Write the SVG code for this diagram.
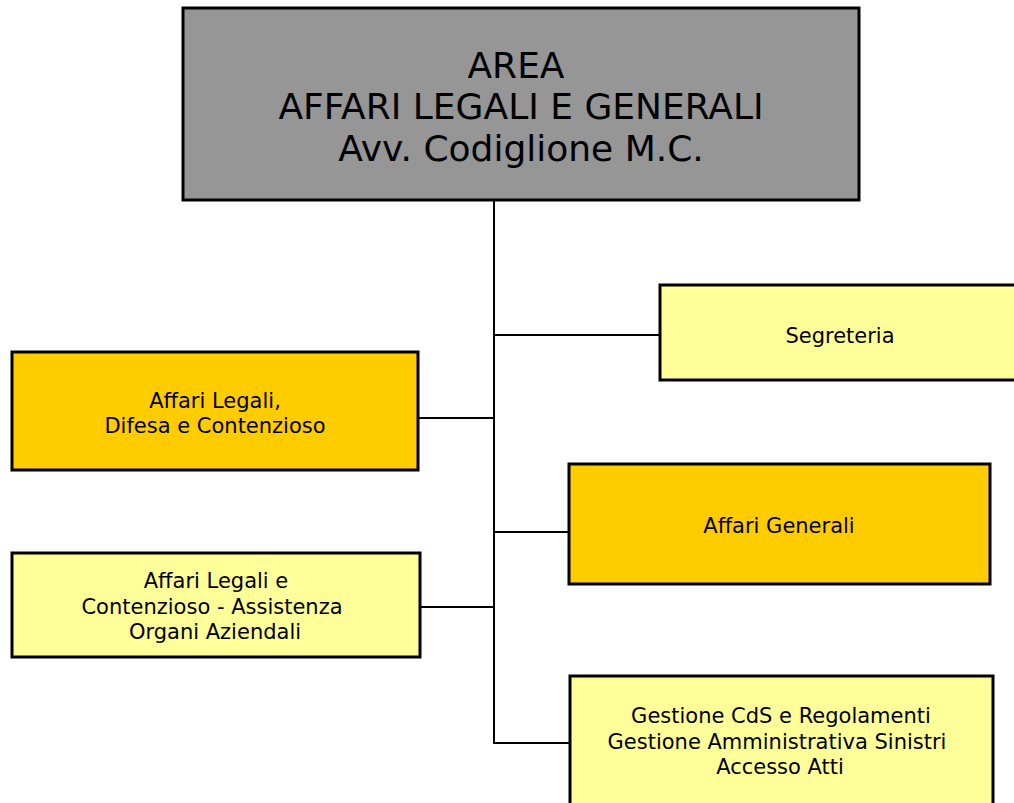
<svg xmlns="http://www.w3.org/2000/svg" width="1014" height="803" viewBox="0 0 1014 803">
<style>
.box{stroke:#000;stroke-width:3}
.gray{fill:#969696}
.gold{fill:#FFCC00}
.pale{fill:#FFFF99}
.t{font-family:"DejaVu Sans",Verdana,sans-serif;font-size:21px;fill:#000;text-anchor:middle}
.big{font-size:36px}
.c{stroke:#000;stroke-width:2;fill:none}
</style>
<rect width="1014" height="803" fill="#fff"/>
<g id="connectors">
<line class="c" x1="494" y1="200" x2="494" y2="744"/>
<line class="c" x1="494" y1="335" x2="660" y2="335"/>
<line class="c" x1="418" y1="418" x2="494" y2="418"/>
<line class="c" x1="494" y1="532" x2="569" y2="532"/>
<line class="c" x1="420" y1="607" x2="494" y2="607"/>
<line class="c" x1="494" y1="743" x2="570" y2="743"/>
</g>
<g id="area">
<rect class="box gray" x="183" y="8" width="676" height="192"/>
<text class="t big" x="516" y="78">AREA</text>
<text class="t big" x="521" y="119">AFFARI LEGALI E GENERALI</text>
<text class="t big" x="521" y="161">Avv. Codiglione M.C.</text>
</g>
<g id="segreteria">
<rect class="box pale" x="660" y="285" width="360" height="95"/>
<text class="t" x="840" y="343">Segreteria</text>
</g>
<g id="affari-legali-difesa">
<rect class="box gold" x="12" y="352" width="406" height="118"/>
<text class="t" x="215" y="408">Affari Legali,</text>
<text class="t" x="215" y="433">Difesa e Contenzioso</text>
</g>
<g id="affari-generali">
<rect class="box gold" x="569" y="464" width="421" height="120"/>
<text class="t" x="779" y="533">Affari Generali</text>
</g>
<g id="affari-legali-assistenza">
<rect class="box pale" x="12" y="553" width="408" height="104"/>
<text class="t" x="216" y="588">Affari Legali e</text>
<text class="t" x="212" y="614">Contenzioso - Assistenza</text>
<text class="t" x="215" y="639">Organi Aziendali</text>
</g>
<g id="gestione">
<rect class="box pale" x="570" y="676" width="423" height="140"/>
<text class="t" x="781" y="723">Gestione CdS e Regolamenti</text>
<text class="t" x="777" y="749">Gestione Amministrativa Sinistri</text>
<text class="t" x="780" y="774">Accesso Atti</text>
</g>
</svg>
